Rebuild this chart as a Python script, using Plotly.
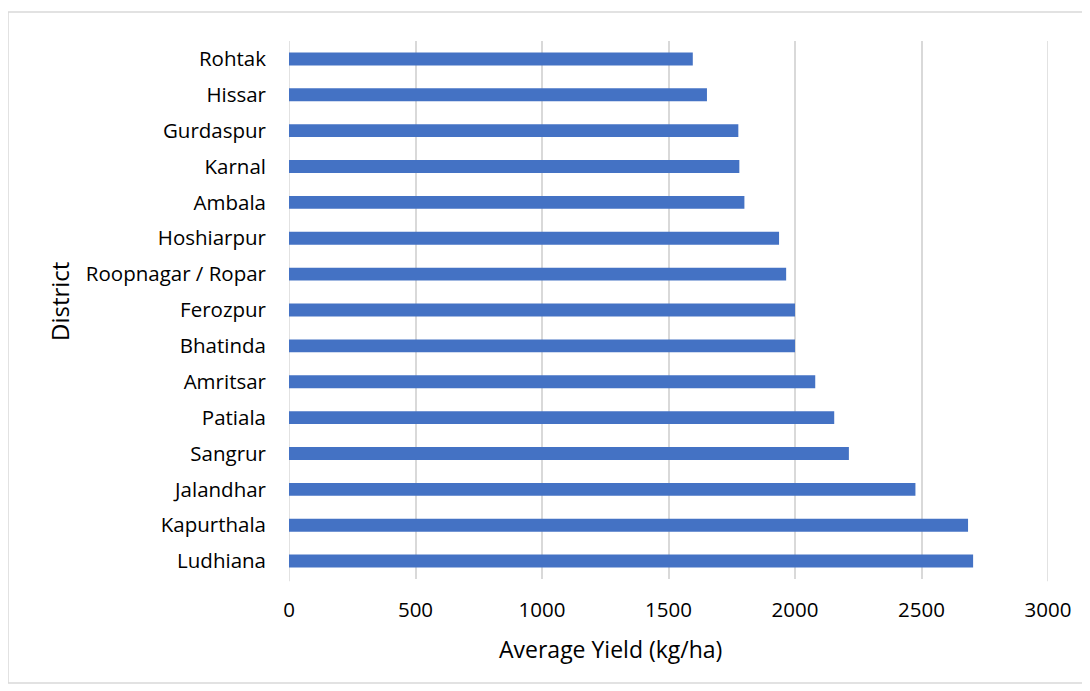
import plotly.graph_objects as go

districts = ["Ludhiana", "Kapurthala", "Jalandhar", "Sangrur", "Patiala", "Amritsar",
             "Bhatinda", "Ferozpur", "Roopnagar / Ropar", "Hoshiarpur", "Ambala",
             "Karnal", "Gurdaspur", "Hissar", "Rohtak"]
yields = [2704, 2684, 2476, 2213, 2155, 2080, 2000, 2000, 1965, 1937, 1800,
          1780, 1776, 1652, 1596]
x_ticks = [0, 500, 1000, 1500, 2000, 2500, 3000]

FONT = "Open Sans, Noto Sans, sans-serif"

fig = go.Figure(go.Bar(
    y=districts, x=yields, orientation="h",
    marker=dict(color="#4472C4", line=dict(width=0)),
    width=0.36,
))

fig.update_layout(
    width=1082, height=683,
    margin=dict(l=281, r=42, t=33, b=112, autoexpand=False),
    paper_bgcolor="white", plot_bgcolor="white",
    showlegend=False,
    font=dict(family=FONT, size=20, color="#000000"),
)
fig.update_xaxes(
    range=[x_ticks[0], x_ticks[-1]], tickvals=x_ticks,
    ticktext=[str(v) for v in x_ticks],
    showgrid=True, gridcolor="#d9d9d9", gridwidth=1.5,
    zeroline=False, showline=False, ticks="", ticklabelstandoff=16,
    tickfont=dict(family=FONT, size=20.5, color="#000000"),
)
fig.update_yaxes(
    categoryorder="array", categoryarray=districts,
    showgrid=False, zeroline=False, showline=False, ticks="",
    ticklabelstandoff=22,
    tickfont=dict(family=FONT, size=20.5, color="#000000"),
)
# gridlines at the range edges (plotly omits them)
for v in (x_ticks[0], x_ticks[-1]):
    fig.add_shape(type="line", xref="x", yref="paper", x0=v, x1=v, y0=-0.004, y1=1,
                  line=dict(color="#d9d9d9", width=1.5), layer="below")

fig.add_annotation(text="Average Yield (kg/ha)", xref="paper", yref="paper",
                   x=(610 - 289) / 759, y=-(649 - 579) / 538,
                   showarrow=False, xanchor="center", yanchor="middle",
                   font=dict(family=FONT, size=23, color="#000000"))
fig.add_annotation(text="District", xref="paper", yref="paper",
                   x=-(289 - 59) / 759, y=(579 - 302) / 538, textangle=-90,
                   showarrow=False, xanchor="center", yanchor="middle",
                   font=dict(family=FONT, size=24, color="#000000"))
fig.add_shape(type="rect", xref="paper", yref="paper",
              x0=(8 - 289) / 759, x1=(1083 - 289) / 759,
              y0=(579 - 683) / 538, y1=(579 - 12) / 538,
              line=dict(color="#d9d9d9", width=1.5), fillcolor="rgba(0,0,0,0)")

fig.write_html("out.html")
